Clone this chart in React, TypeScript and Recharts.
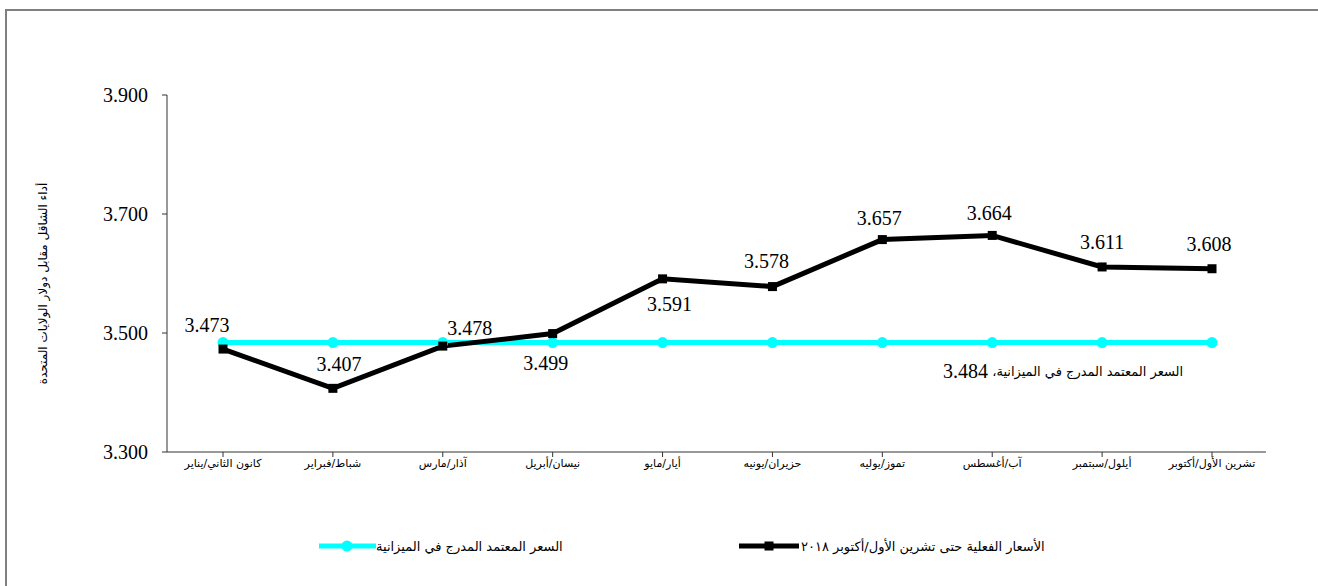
import React from "react";
import { LineChart, Line, XAxis, YAxis, LabelList, Legend } from "recharts";

// Months (Arabic / transliterated month names)
const months = [
  "كانون الثاني/يناير",
  "شباط/فبراير",
  "آذار/مارس",
  "نيسان/أبريل",
  "أيار/مايو",
  "حزيران/يونيه",
  "تموز/يوليه",
  "آب/أغسطس",
  "أيلول/سبتمبر",
  "تشرين الأول/أكتوبر",
];

const actualRates = [3.473, 3.407, 3.478, 3.499, 3.591, 3.578, 3.657, 3.664, 3.611, 3.608];
const budgetRates = [3.484, 3.484, 3.484, 3.484, 3.484, 3.484, 3.484, 3.484, 3.484, 3.484];

const yTicks = [3.3, 3.5, 3.7, 3.9];

const actualName = "الأسعار الفعلية حتى تشرين الأول/أكتوبر ٢٠١٨";
const budgetName = "السعر المعتمد المدرج في الميزانية";
const yTitle = "أداء الشاقل مقابل دولار الولايات المتحدة";

const data = months.map((m, i) => ({
  month: m,
  actual: actualRates[i],
  budget: budgetRates[i],
}));

// where each value label sits relative to its point
const labelOffsets: [number, number][] = [
  [-16, -24],
  [6, -24],
  [27, -18],
  [-7, 29],
  [7, 25],
  [-6, -26],
  [-3, -22],
  [-3, -22],
  [0, -25],
  [-3, -25],
];

const serif = "Liberation Serif, Times New Roman, DejaVu Serif, serif";
const arabic = "DejaVu Sans, sans-serif";

const ActualLabel = (props: any) => {
  const { x, y, value, index } = props;
  const [dx, dy] = labelOffsets[index] || [0, -24];
  return (
    <text
      x={x + dx}
      y={y + dy}
      textAnchor="middle"
      dominantBaseline="central"
      style={{ fontFamily: serif, fontSize: 20 }}
      fill="#000"
    >
      {Number(value).toFixed(3)}
    </text>
  );
};

const BudgetLabel = (props: any) => {
  const { x, y, value, index } = props;
  if (index !== 8) return null;
  return (
    <text
      x={x - 39}
      y={y + 28}
      textAnchor="middle"
      dominantBaseline="central"
      direction="rtl"
      fill="#000"
    >
      <tspan style={{ fontFamily: arabic, fontSize: 13 }}>{budgetName}، </tspan>
      <tspan style={{ fontFamily: serif, fontSize: 20 }}>{Number(value).toFixed(3)}</tspan>
    </text>
  );
};

const SquareDot = (props: any) => {
  const { cx, cy, index } = props;
  return <rect key={`sq-${index}`} x={cx - 4.5} y={cy - 4.5} width={9} height={9} fill="#000" />;
};

const YTitle = (props: any) => {
  const { viewBox } = props;
  const cx = viewBox.x - 64;
  const cy = viewBox.y + viewBox.height / 2 + 10;
  return (
    <text
      x={cx}
      y={cy}
      transform={`rotate(-90 ${cx} ${cy})`}
      textAnchor="middle"
      dominantBaseline="central"
      style={{ fontFamily: arabic, fontSize: 12 }}
      fill="#000"
    >
      {yTitle}
    </text>
  );
};

const LegendContent = () => (
  <div style={{ position: "relative", height: 20, width: 1318 }}>
    <div style={{ position: "absolute", left: 319, top: 0, display: "flex", alignItems: "center", height: 20 }}>
      <svg width={57} height={12}>
        <line x1={0} y1={6} x2={57} y2={6} stroke="#00FFFF" strokeWidth={5} />
        <circle cx={28} cy={6} r={5.5} fill="#00FFFF" />
      </svg>
      <span dir="rtl" style={{ fontFamily: arabic, fontSize: 13, color: "#000" }}>
        {budgetName}
      </span>
    </div>
    <div style={{ position: "absolute", left: 739, top: 0, display: "flex", alignItems: "center", height: 20 }}>
      <svg width={60} height={12}>
        <line x1={0} y1={6} x2={60} y2={6} stroke="#000" strokeWidth={5} />
        <rect x={25.5} y={1.5} width={9} height={9} fill="#000" />
      </svg>
      <span dir="rtl" style={{ fontFamily: arabic, fontSize: 13, color: "#000", marginLeft: 2 }}>
        {actualName}
      </span>
    </div>
  </div>
);

export default function App() {
  return (
    <div
      style={{
        position: "fixed",
        left: 0,
        top: 0,
        width: 1318,
        height: 586,
        overflow: "hidden",
        background: "#fff",
      }}
    >
      <div
        style={{
          position: "absolute",
          left: 5,
          top: 9,
          width: 1400,
          height: 700,
          border: "2px solid #808080",
        }}
      />
      <div style={{ position: "absolute", left: 0, top: 0 }}>
        <LineChart
          width={1318}
          height={586}
          data={data}
          margin={{ top: 95, right: 52, left: 107, bottom: 84 }}
        >
          <XAxis
            dataKey="month"
            interval={0}
            padding={{ left: 56, right: 54 }}
            tickSize={5}
            tick={{ fontFamily: arabic, fontSize: 11, fill: "#000" }}
            axisLine={{ stroke: "#333" }}
            tickLine={{ stroke: "#333" }}
          />
          <YAxis
            domain={[3.3, 3.9]}
            ticks={yTicks}
            width={60}
            tickSize={5}
            tickMargin={14}
            tickFormatter={(v) => Number(v).toFixed(3)}
            tick={{ style: { fontFamily: serif, fontSize: 20 }, fill: "#000" }}
            axisLine={{ stroke: "#333" }}
            tickLine={{ stroke: "#333" }}
            label={YTitle}
          />
          <Legend verticalAlign="bottom" wrapperStyle={{ top: 536, left: 0 }} content={LegendContent} />
          <Line
            dataKey="budget"
            name={budgetName}
            stroke="#00FFFF"
            strokeWidth={5}
            dot={{ r: 5.5, fill: "#00FFFF", stroke: "none" }}
            isAnimationActive={false}
          >
            <LabelList dataKey="budget" content={BudgetLabel} />
          </Line>
          <Line
            dataKey="actual"
            name={actualName}
            stroke="#000"
            strokeWidth={5}
            dot={SquareDot}
            isAnimationActive={false}
          >
            <LabelList dataKey="actual" content={ActualLabel} />
          </Line>
        </LineChart>
      </div>
    </div>
  );
}
